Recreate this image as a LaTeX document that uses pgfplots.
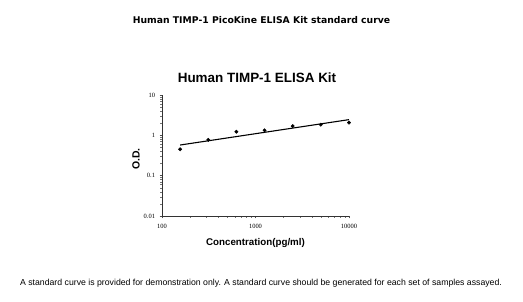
\documentclass[border=0pt]{standalone}
\usepackage{pgfplots}
\pgfplotsset{compat=1.18}
\usepackage{fontspec}
\setmainfont{Liberation Sans}
\newfontfamily\tickfont{Liberation Serif}
\newfontfamily\verd{DejaVu Sans}
\begin{document}
\begin{tikzpicture}
\path[use as bounding box] (0,0) rectangle (523bp,302bp);
\begin{axis}[
  at={(162bp,86bp)}, anchor=south west,
  scale only axis, width=187bp, height=121bp,
  xmode=log, ymode=log,
  xmin=100, xmax=10000, ymin=0.01, ymax=10,
  axis lines*=left,
  axis line style={black!80, line width=0.5pt},
  xtick={100,1000,10000}, xticklabels={100,1000,10000},
  ytick={0.01,0.1,1,10}, yticklabels={0.01,0.1,1,10},
  tick align=outside,
  major tick length=2.5bp, minor tick length=2bp,
  tick style={black!70, line width=0.4pt},
  minor tick style={black!55, line width=0.4pt},
  /pgf/number format/assume math mode=true,
  ticklabel style={font=\tickfont\fontsize{6.5}{7}\selectfont},
  xticklabel style={yshift=-2bp},
  yticklabel style={xshift=-1bp},
  clip=false,
]
\addplot[only marks, mark=*, mark size=1.7bp, black] coordinates {
  (156.25,0.45) (312.5,0.77) (625,1.23) (1250,1.33) (2500,1.70) (5000,1.84) (10000,2.06)
};
\addplot[black, line width=1.1pt] coordinates {(156.25,0.575) (10000,2.45)};
\end{axis}
\node[font=\verd\bfseries\fontsize{9.3}{11}\selectfont] at (261.5bp,282bp) {Human TIMP-1 PicoKine ELISA Kit standard curve};
\node[font=\bfseries\fontsize{13.5}{15}\selectfont] at (257bp,224bp) {Human TIMP-1 ELISA Kit};
\node[font=\bfseries\fontsize{9.8}{11}\selectfont] at (255.5bp,59bp) {Concentration(pg/ml)};
\node[font=\bfseries\fontsize{10.5}{12}\selectfont, rotate=90] at (136bp,143bp) {O.D.};
\node[font=\fontsize{8.75}{10}\selectfont] at (261bp,19bp) {A standard curve is provided for demonstration only. A standard curve should be generated for each set of samples assayed.};
\end{tikzpicture}
\end{document}
